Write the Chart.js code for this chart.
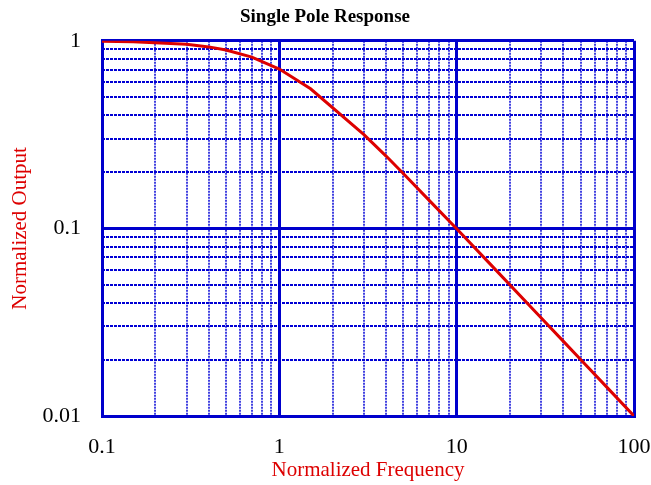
<!DOCTYPE html>
<html>
<head>
<meta charset="utf-8">
<script src="https://cdn.jsdelivr.net/npm/chart.js@4"></script>
<style>
  html, body { margin: 0; padding: 0; background: #ffffff; }
  #c { display: block; }
</style>
</head>
<body>
<canvas id="c" width="651" height="485"></canvas>
<script>
// ---- data ----
const frequency = [0.1, 0.15, 0.3, 0.4, 0.5, 0.7, 1, 1.5, 3, 4, 5, 7, 10, 15, 30, 40, 50, 70, 100];
const output    = [0.995, 0.989, 0.958, 0.928, 0.894, 0.819, 0.707, 0.555, 0.316, 0.243, 0.196, 0.141, 0.0995, 0.0665, 0.0333, 0.025, 0.02, 0.0143, 0.01];
const xTickLabels = ['0.1', '1', '10', '100'];
const yTickLabels = ['0.01', '0.1', '1'];
const xDecades = [0.1, 1, 10];
const yDecades = [0.01, 0.1];
const multipliers = [1, 2, 3, 4, 5, 6, 7, 8, 9];

const BLUE = '#0000cc';
const RED = '#dd0000';
const SERIF = '"Liberation Serif", "Times New Roman", Times, serif';

function buildTicks(decades, last) {
  const t = [];
  decades.forEach(d => multipliers.forEach(m => t.push(+(d * m).toPrecision(6))));
  t.push(last);
  return t;
}
const xTicks = buildTicks(xDecades, 100);
const yTicks = buildTicks(yDecades, 1);
const isMajor = v => Math.abs(Math.log10(v) - Math.round(Math.log10(v))) < 1e-9;
function labelFor(v, labels) {
  if (!isMajor(v)) return '';
  const s = labels.find(l => Math.abs(parseFloat(l) - v) < 1e-9 * Math.max(1, v));
  return s === undefined ? '' : s;
}

const minorGrid = {
  id: 'minorGrid',
  beforeDraw(chart) {
    const { ctx, chartArea: a } = chart;
    const xs = chart.scales.x, ys = chart.scales.y;
    ctx.save();
    ctx.lineWidth = 2;
    // vertical minor lines
    ctx.strokeStyle = '#4040e0';
    ctx.setLineDash([2, 1]);
    xTicks.filter(v => !isMajor(v)).forEach(v => {
      const px = Math.round(xs.getPixelForValue(v));
      ctx.beginPath(); ctx.moveTo(px, a.top); ctx.lineTo(px, a.bottom); ctx.stroke();
    });
    // horizontal minor lines
    ctx.strokeStyle = '#0000d4';
    ctx.setLineDash([3, 1]);
    yTicks.filter(v => !isMajor(v)).forEach(v => {
      const py = Math.round(ys.getPixelForValue(v));
      ctx.beginPath(); ctx.moveTo(a.left, py); ctx.lineTo(a.right, py); ctx.stroke();
    });
    ctx.restore();
  }
};

new Chart(document.getElementById('c'), {
  type: 'line',
  data: {
    datasets: [{
      data: frequency.map((f, i) => ({ x: f, y: output[i] })),
      borderColor: RED,
      borderWidth: 3,
      pointRadius: 0,
      tension: 0,
      fill: false
    }]
  },
  options: {
    responsive: false,
    animation: false,
    devicePixelRatio: 1,
    layout: { padding: { left: 0, right: 1, top: 0, bottom: 0 } },
    plugins: {
      legend: { display: false },
      tooltip: { enabled: false },
      title: {
        display: true,
        text: 'Single Pole Response',
        color: '#000000',
        font: { family: SERIF, size: 19, weight: 'bold', lineHeight: 1.2 },
        padding: { top: 6, bottom: 12 }
      }
    },
    scales: {
      x: {
        type: 'logarithmic',
        min: 0.1,
        max: 100,
        afterBuildTicks: s => { s.ticks = xTicks.map(v => ({ value: v, major: isMajor(v) })); },
        afterFit: s => { s.height = 69; s.paddingRight = 17; s.paddingLeft = 17; },
        ticks: {
          autoSkip: false,
          maxRotation: 0,
          padding: 18,
          color: '#000000',
          font: { family: SERIF, size: 22 },
          callback: v => labelFor(v, xTickLabels)
        },
        grid: {
          drawTicks: false,
          color: c => (c.tick && isMajor(c.tick.value)) ? BLUE : 'rgba(0,0,0,0)',
          lineWidth: c => (c.tick && isMajor(c.tick.value)) ? 3 : 0
        },
        border: { display: true, color: BLUE, width: 3 },
        title: {
          display: true,
          text: 'Normalized Frequency',
          color: RED,
          font: { family: SERIF, size: 21, lineHeight: 1.2 },
          padding: { top: 0, bottom: 2 }
        }
      },
      y: {
        type: 'logarithmic',
        min: 0.01,
        max: 1,
        afterBuildTicks: s => { s.ticks = yTicks.map(v => ({ value: v, major: isMajor(v) })); },
        afterFit: s => { s.width = 102; },
        ticks: {
          autoSkip: false,
          padding: 21,
          color: '#000000',
          font: { family: SERIF, size: 22 },
          callback: v => labelFor(v, yTickLabels)
        },
        grid: {
          drawTicks: false,
          color: c => (c.tick && isMajor(c.tick.value)) ? BLUE : 'rgba(0,0,0,0)',
          lineWidth: c => (c.tick && isMajor(c.tick.value)) ? 3 : 0
        },
        border: { display: true, color: BLUE, width: 3 },
        title: {
          display: true,
          text: 'Normalized Output',
          color: RED,
          font: { family: SERIF, size: 21, lineHeight: 1.2 },
          padding: { top: 8, bottom: 0 }
        }
      }
    }
  },
  plugins: [minorGrid]
});
</script>
</body>
</html>
